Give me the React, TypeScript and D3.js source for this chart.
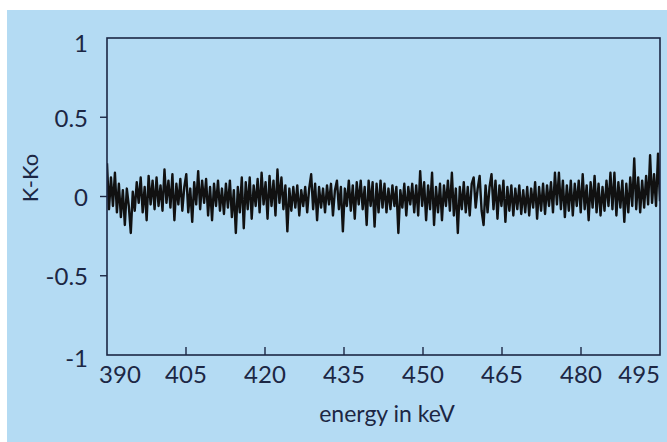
import React from "react";
import * as d3 from "d3";

const xTicks = [390, 405, 420, 435, 450, 465, 480, 495];
const yTicks = [-1, -0.5, 0, 0.5, 1];
const yTickLabels = ["-1", "-0.5", "0", "0.5", "1"];
const xDomain = [390, 495];
const yDomain = [-1, 1];

// K-Ko residuals (roughly one sample per 0.375 keV)
const residuals = [
  0.21, -0.08, 0.12, -0.06, 0.15,
  -0.1, 0.08, -0.13, 0.04, -0.18,
  0.05, -0.06, -0.23, 0.03, -0.09,
  0.09, -0.04, 0.12, -0.1, 0.06,
  -0.15, 0.13, -0.05, 0.1, -0.08,
  0.12, -0.06, 0.07, -0.09, 0.17,
  -0.04, 0.1, -0.07, 0.14, -0.15,
  0.08, -0.05, 0.11, -0.09, 0.06,
  0.14, -0.1, 0.05, -0.16, 0.09,
  -0.05, 0.16, -0.08, 0.1, -0.04,
  0.11, -0.12, 0.06, -0.15, 0.08,
  -0.06, 0.1, -0.09, 0.05, -0.11,
  0.08, -0.07, 0.1, -0.13, 0.04,
  -0.23, 0.06, -0.1, 0.12, -0.2,
  0.09, -0.08, 0.12, -0.14, 0.07,
  -0.06, 0.11, -0.1, 0.15, -0.05,
  0.09, -0.14, 0.13, -0.06, 0.1,
  -0.12, 0.17, -0.04, 0.12, -0.08,
  0.07, -0.22, 0.05, -0.09, 0.06,
  -0.07, 0.07, -0.12, 0.04, -0.06,
  0.06, -0.1, 0.05, 0.14, -0.08,
  0.08, -0.15, 0.06, -0.07, 0.05,
  -0.1, 0.07, -0.05, 0.08, -0.12,
  0.04, 0.1, -0.08, 0.06, -0.22,
  0.05, -0.06, 0.1, -0.09, 0.07,
  -0.14, 0.09, -0.05, 0.1, -0.08,
  0.06, -0.18, 0.1, -0.06, 0.09,
  -0.19, 0.08, -0.1, 0.1, -0.07,
  0.08, -0.1, 0.05, -0.08, 0.07,
  -0.06, 0.06, -0.23, 0.04, -0.07,
  0.08, -0.12, 0.06, -0.05, 0.08,
  -0.1, 0.07, -0.12, 0.16, -0.06,
  0.09, -0.15, 0.07, -0.08, 0.15,
  -0.18, 0.06, -0.1, 0.08, -0.15,
  0.07, -0.06, 0.1, -0.09, 0.15,
  -0.12, 0.05, -0.23, 0.06, -0.08,
  0.09, -0.1, 0.06, -0.12, 0.08,
  0.12, -0.07, 0.05, 0.13, -0.09,
  -0.18, 0.07, -0.1, 0.06, 0.14,
  -0.08, 0.1, -0.14, 0.07, -0.06,
  0.1, -0.16, 0.06, -0.09, 0.07,
  -0.12, 0.05, -0.08, 0.07, -0.11,
  0.04, -0.1, 0.06, -0.12, 0.05,
  -0.07, 0.09, -0.14, 0.06, -0.09,
  0.08, -0.11, 0.07, -0.06, 0.09,
  -0.1, 0.15, -0.05, 0.15, -0.08,
  0.1, -0.13, 0.07, -0.09, 0.1,
  -0.12, 0.08, -0.06, 0.1, -0.1,
  0.14, -0.08, 0.07, -0.15, 0.09,
  -0.07, 0.13, -0.1, 0.08, -0.12,
  0.06, -0.09, 0.1, -0.06, 0.15,
  -0.08, 0.15, -0.12, 0.09, -0.07,
  0.1, -0.16, 0.08, -0.1, 0.12,
  -0.06, 0.24, -0.08, 0.12, -0.1,
  0.1, -0.07, 0.13, -0.05, 0.26,
  -0.04, 0.14, -0.06, 0.27, -0.03,
];

const W = 667;
const H = 442;
const BG = "#b4dbf3";
const INK = "#1c2744";
const FONT = "Lato, 'Noto Sans', sans-serif";

export default function App() {
  const left = 107, right = 660, top = 38, bottom = 355;
  const x = d3.scaleLinear().domain(xDomain).range([left, right]);
  const y = d3.scaleLinear().domain(yDomain).range([bottom, top]);
  const idx = d3.scaleLinear().domain([0, residuals.length - 1]).range(xDomain);
  const line = d3
    .line<number>()
    .x((_, i) => x(idx(i)))
    .y((d) => y(d));

  return (
    <svg
      width={W}
      height={H}
      style={{ position: "absolute", left: 0, top: 0, display: "block" }}
      fontFamily={FONT}
    >
      <rect x={0} y={0} width={W} height={H} fill="#ffffff" />
      <rect x={7} y={10} width={W - 7} height={H - 10} fill={BG} />
      <defs>
        <clipPath id="plotclip">
          <rect x={left} y={top} width={right - left} height={bottom - top} />
        </clipPath>
      </defs>
      <path
        d={line(residuals) || ""}
        fill="none"
        stroke="#111111"
        strokeWidth={2.4}
        strokeLinejoin="round"
        clipPath="url(#plotclip)"
      />
      <rect
        x={left}
        y={top}
        width={right - left}
        height={bottom - top}
        fill="none"
        stroke={INK}
        strokeWidth={1.6}
      />
      {yTicks.map((t, i) => (
        <g key={"y" + t}>
          {t !== 1 && t !== -1 && (
            <line x1={left - 7} x2={left} y1={y(t)} y2={y(t)} stroke={INK} strokeWidth={1.4} />
          )}
          <text
            x={left - 19}
            y={y(t) + (t === 1 ? 4 : t === -1 ? 2 : 0)}
            textAnchor="end"
            dominantBaseline="central"
            fontSize={24}
            fill={INK}
          >
            {yTickLabels[i]}
          </text>
        </g>
      ))}
      {xTicks.map((t, i) => {
        const first = i === 0;
        const last = i === xTicks.length - 1;
        return (
          <g key={"x" + t}>
            {!first && !last && (
              <line x1={x(t)} x2={x(t)} y1={bottom} y2={bottom - 8} stroke={INK} strokeWidth={1.4} />
            )}
            <text
              x={first ? x(t) + 13 : x(t)}
              y={383}
              textAnchor={last ? "end" : "middle"}
              fontSize={24}
              fill={INK}
            >
              {String(t)}
            </text>
          </g>
        );
      })}
      <text x={387} y={422} textAnchor="middle" fontSize={23} fill={INK}>
        energy in keV
      </text>
      <text
        transform={`translate(38, 178) rotate(-90)`}
        textAnchor="middle"
        fontSize={22}
        fill={INK}
      >
        K-Ko
      </text>
    </svg>
  );
}
